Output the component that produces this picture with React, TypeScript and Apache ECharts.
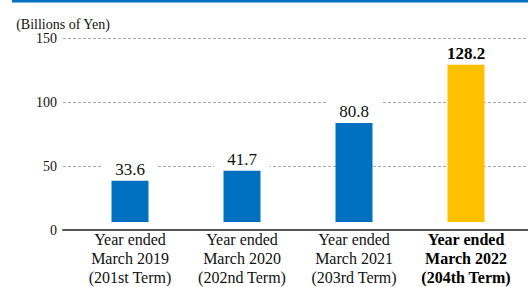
import React, { useEffect, useRef } from "react";
import * as echarts from "echarts";

const categories = [
  "Year ended\nMarch 2019\n(201st Term)",
  "Year ended\nMarch 2020\n(202nd Term)",
  "Year ended\nMarch 2021\n(203rd Term)",
  "Year ended\nMarch 2022\n(204th Term)",
];
const values = [33.6, 41.7, 80.8, 128.2];
const highlight = [false, false, false, true];
const yTicks = { min: 0, max: 150, interval: 50 };
const unitLabel = "(Billions of Yen)";

const FONT = "Liberation Serif";

export default function App() {
  const ref = useRef<HTMLDivElement>(null);
  useEffect(() => {
    if (!ref.current) return;
    const chart = echarts.init(ref.current, undefined, { renderer: "svg" });
    const top = 38;
    const bottom = 287 - 230;
    chart.setOption({
      animation: false,
      textStyle: { fontFamily: FONT },
      graphic: [
        { type: "rect", shape: { x: 12, y: 0, width: 516, height: 2.5 }, style: { fill: "#0070C0" } },
      ],
      grid: [
        { left: 63, right: 0, top, bottom },
        { left: 74, width: 448, top, bottom },
      ],
      xAxis: [
        {
          gridIndex: 0,
          type: "category",
          data: [""],
          axisLine: { show: true, lineStyle: { color: "#555", width: 2 } },
          axisTick: { show: false },
          axisLabel: { show: false },
        },
        {
          gridIndex: 1,
          type: "category",
          data: categories.map((c, i) => ({
            value: c,
            textStyle: highlight[i] ? { fontWeight: "bold", color: "#000" } : {},
          })),
          axisLine: { show: false },
          axisTick: { show: false },
          axisLabel: {
            fontFamily: FONT,
            fontSize: 16,
            lineHeight: 19,
            color: "#111",
            margin: 8,
            interval: 0,
          },
        },
      ],
      yAxis: [
        {
          gridIndex: 0,
          type: "value",
          min: yTicks.min,
          max: yTicks.max,
          interval: yTicks.interval,
          name: unitLabel,
          nameLocation: "end",
          nameGap: 7,
          nameTextStyle: {
            fontFamily: FONT,
            fontSize: 14,
            color: "#111",
            align: "center",
            verticalAlign: "bottom",
          },
          axisLine: { show: false },
          axisTick: { show: false },
          axisLabel: { fontFamily: FONT, fontSize: 14, color: "#111", margin: 6 },
          splitLine: { lineStyle: { color: "#aaa", type: [3, 2], width: 1 } },
        },
        {
          gridIndex: 1,
          type: "value",
          min: yTicks.min,
          max: yTicks.max,
          interval: yTicks.interval,
          show: false,
          splitLine: { show: false },
        },
      ],
      series: [
        {
          type: "bar",
          xAxisIndex: 1,
          yAxisIndex: 1,
          barWidth: 37,
          z: 3,
          data: values.map((v, i) => ({
            value: v,
            itemStyle: { color: highlight[i] ? "#FFC000" : "#0070C0" },
            label: highlight[i]
              ? { fontWeight: "bold", color: "#000", fontFamily: FONT }
              : { fontFamily: FONT },
          })),
          label: {
            show: true,
            position: "top",
            distance: 2,
            fontFamily: FONT,
            fontSize: 17,
            color: "#111",
            backgroundColor: "#fff",
            padding: [3, 13, 1, 13],
          },
        },
      ],
    });
    return () => chart.dispose();
  }, []);
  return (
    <>
      <style>{`#root svg text, #root svg tspan { font-family: "Liberation Serif", "Times New Roman", serif !important; }`}</style>
      <div
        ref={ref}
        style={{ position: "fixed", left: 0, top: 0, width: 528, height: 287, background: "#fff" }}
      />
    </>
  );
}
